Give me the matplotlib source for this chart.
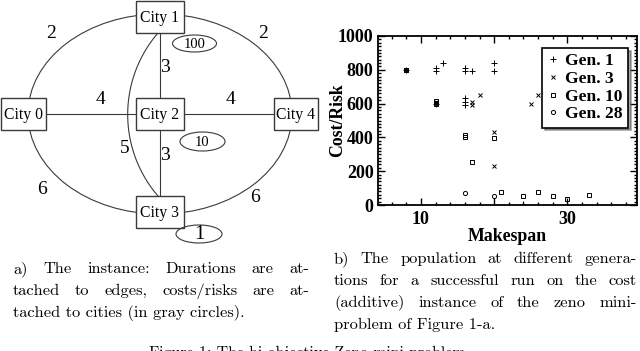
import numpy as np
import matplotlib
matplotlib.use("Agg")
import matplotlib.pyplot as plt
from matplotlib.patches import Ellipse, Rectangle
from matplotlib.ticker import MultipleLocator, FixedLocator

# ---- panel b data: (makespan, cost/risk) per generation ----
gen1_x = [8, 12, 12, 12, 13, 16, 16, 16, 16, 16, 17, 20, 20, 24]
gen1_y = [800, 795, 812, 600, 838, 795, 812, 592, 610, 632, 795, 795, 838, 4]
gen3_x = [8, 12, 17, 17, 18, 20, 20, 25, 26]
gen3_y = [800, 612, 592, 612, 651, 434, 232, 595, 651]
gen10_x = [8, 12, 12, 16, 16, 17, 20, 21, 24, 26, 28, 30, 33]
gen10_y = [800, 600, 618, 400, 414, 255, 397, 75, 53, 78, 55, 38, 62]
gen28_x = [8, 12, 16, 20]
gen28_y = [800, 605, 70, 53]

# ---- panel a data: cities, edge durations, city costs ----
cities = ["City 0", "City 1", "City 2", "City 3", "City 4"]
edge_durations = ["2", "2", "3", "4", "4", "3", "5", "6", "6"]
city_costs = ["100", "10", "1"]

# layout of the drawing (pixels, y down)
city_pos = {"City 0": (23.5, 114, 45), "City 1": (160, 16.5, 48),
            "City 2": (160, 114, 48), "City 3": (160, 212, 48),
            "City 4": (296, 114, 44)}
label_pos = [(51, 34), (263, 34), (164.5, 67), (100, 99), (231, 99),
             (164.5, 156), (124.5, 148.5), (42.5, 189), (255, 197)]
cost_pos = [(194.5, 43.5, 44, 17, 10.5), (202.5, 141.5, 45, 19, 10.5),
            (199, 234, 46, 18, 15)]

plt.rcParams['font.family'] = ['Liberation Serif', 'DejaVu Serif']

fig = plt.figure(figsize=(6.4, 3.51), dpi=100, facecolor='white')
axd = fig.add_axes([0, 0, 1, 1])
axd.set_xlim(0, 640)
axd.set_ylim(351, 0)
axd.axis('off')

lc = '#3a3a3a'
lw = 0.8
# big ellipse (outer edges)
axd.add_patch(Ellipse((160, 114), 264, 200, fill=False, ec=lc, lw=lw, zorder=1))
# straight edges
axd.plot([46, 136], [114, 114], color=lc, lw=lw, zorder=1)
axd.plot([184, 274], [114, 114], color=lc, lw=lw, zorder=1)
axd.plot([160, 160], [33, 98], color=lc, lw=lw, zorder=1)
axd.plot([160, 160], [130, 196], color=lc, lw=lw, zorder=1)
# curved edge city1 -> city3
R = 124.8
t0 = np.arcsin(81.5 / R)
t = np.linspace(np.pi - t0, np.pi + t0, 100)
axd.plot(127.7 + R + R * np.cos(t), 114.5 + R * np.sin(t), color=lc, lw=lw, zorder=1)

for name in cities:
    cx, cy, w = city_pos[name]
    axd.add_patch(Rectangle((cx - w / 2, cy - 16), w, 32, fc='white', ec=lc, lw=1.0, zorder=2))
    axd.text(cx, cy + 1, name, ha='center', va='center', fontsize=11.3, zorder=3)

for lab, (x, y) in zip(edge_durations, label_pos):
    axd.text(x, y, lab, ha='center', va='center', fontsize=14, zorder=3)

for lab, (x, y, w, h, fs) in zip(city_costs, cost_pos):
    axd.add_patch(Ellipse((x, y), w, h, fill=False, ec=lc, lw=lw, zorder=3))
    axd.text(x, y + 0.5, lab, ha='center', va='center', fontsize=fs, zorder=3)

# ---- captions (justified, computer modern) ----
cap_kw = dict(fontsize=11.8, family='cmr10', va='baseline')
renderer = fig.canvas.get_renderer()


def justified(lines, x0, x1, y0, dy):
    for i, line in enumerate(lines):
        y = y0 + i * dy
        if i == len(lines) - 1:
            axd.text(x0, y, line, **cap_kw)
            continue
        words = line.split()
        ts = [axd.text(0, y, w, **cap_kw) for w in words]
        widths = [tt.get_window_extent(renderer).width for tt in ts]
        gap = (x1 - x0 - sum(widths)) / (len(words) - 1)
        x = x0
        for tt, w in zip(ts, widths):
            tt.set_x(x)
            x += w + gap


cap_a = ["a) The instance: Durations are at-",
         "tached to edges, costs/risks are at-",
         "tached to cities (in gray circles)."]
cap_b = ["b) The population at different genera-",
         "tions for a successful run on the cost",
         "(additive) instance of the zeno mini-",
         "problem of Figure 1-a."]
justified(cap_a, 13, 309, 273, 22.0)
justified(cap_b, 334, 637, 263, 22.0)
axd.text(307, 345.5, "Figure 1: The bi-objective Zeno mini-problem", ha='center', va='top',
         fontsize=11.4, family='cmr10')

# ---- panel b scatter ----
ax = fig.add_axes([377.7 / 640, 1 - 205 / 351, (637 - 377.7) / 640, (205 - 36) / 351])
mk = dict(linestyle='none', color='black', mfc='none', mew=0.7)
ax.plot(gen1_x, gen1_y, marker='+', ms=4.5, label='Gen. 1', **mk)
ax.plot(gen3_x, gen3_y, marker='x', ms=2.8, label='Gen. 3', **mk)
ax.plot(gen10_x, gen10_y, marker='s', ms=2.8, label='Gen. 10', **mk)
ax.plot(gen28_x, gen28_y, marker='o', ms=3, label='Gen. 28', **mk)

ax.set_xlim(4.1, 39.5)
ax.set_ylim(0, 1000)
ax.xaxis.set_major_locator(FixedLocator([10, 20, 30]))
ax.set_xticklabels(['10', '', '30'])
ax.xaxis.set_minor_locator(MultipleLocator(2))
ax.yaxis.set_major_locator(MultipleLocator(200))
ax.yaxis.set_minor_locator(MultipleLocator(20))
ax.tick_params(which='both', direction='in', top=True, right=True, width=1, colors='black')
ax.tick_params(which='major', length=5, labelsize=13)
ax.tick_params(which='minor', length=2.5)
ax.tick_params(axis='x', pad=4)
ax.tick_params(axis='y', pad=3)
for lbl in ax.get_xticklabels() + ax.get_yticklabels():
    lbl.set_fontweight('bold')
for s in ax.spines.values():
    s.set_linewidth(1.3)

ax.set_xlabel('Makespan', fontsize=12.8, fontweight='bold', labelpad=0)
ax.set_ylabel('Cost/Risk', fontsize=12.8, fontweight='bold')
ax.yaxis.set_label_coords(-0.122, 0.5)

leg = ax.legend(loc='upper right', bbox_to_anchor=(0.965, 0.929), borderaxespad=0,
                frameon=True, fancybox=False, shadow=True, handlelength=0.6,
                handletextpad=0.4, labelspacing=0.08, borderpad=0.3,
                prop={'weight': 'bold', 'size': 12.6})
leg.get_frame().set_edgecolor('black')
leg.get_frame().set_linewidth(1.2)

fig.savefig('out.png', dpi=100)
